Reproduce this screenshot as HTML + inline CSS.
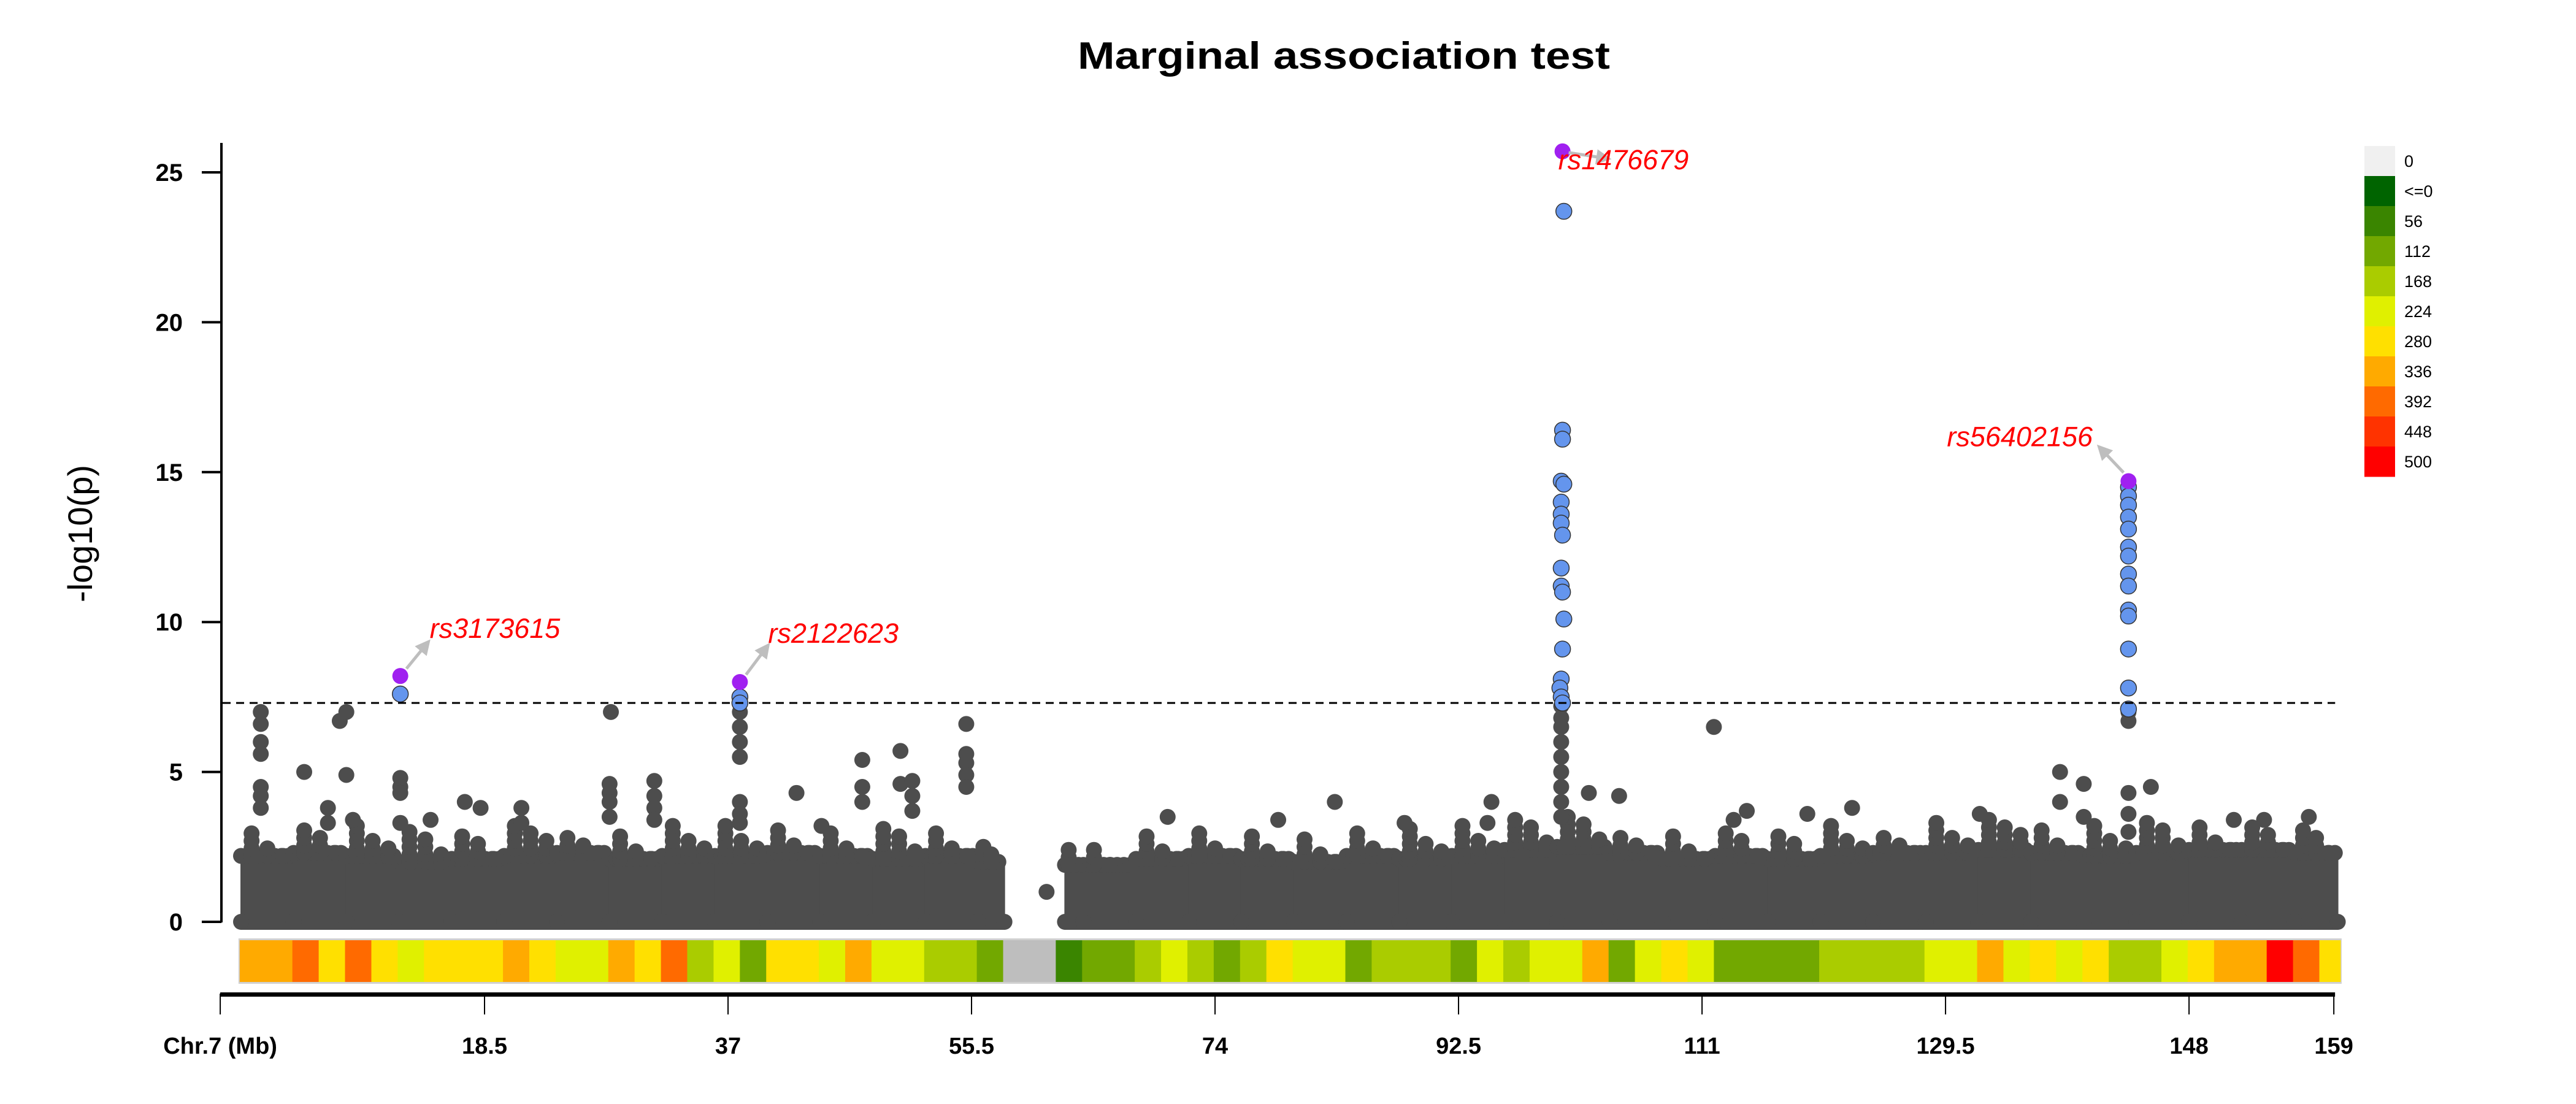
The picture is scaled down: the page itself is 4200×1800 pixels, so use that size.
<!DOCTYPE html>
<html><head><meta charset="utf-8"><title>Marginal association test</title>
<style>html,body{margin:0;padding:0;background:#fff}svg{display:block}</style></head>
<body>
<svg id="chart" xmlns="http://www.w3.org/2000/svg" width="4200" height="1800" viewBox="0 0 4200 1800" font-family="Liberation Sans, sans-serif">
<defs>
<marker id="arr" viewBox="0 0 10 10" refX="8" refY="5" markerWidth="5" markerHeight="5" orient="auto"><path d="M0,0 L10,5 L0,10 z" fill="#bebebe"/></marker>
</defs>
<text x="2191" y="112" text-anchor="middle" font-size="62" font-weight="bold" textLength="868" lengthAdjust="spacingAndGlyphs">Marginal association test</text>
<text transform="translate(150,870) rotate(-90)" text-anchor="middle" font-size="56">-log10(p)</text>
<g id="yaxis"></g>
<g id="xaxis"></g>
<g id="strip"></g>
<g id="mass"></g>
<g id="pts"></g>
<line id="thr" stroke="#000" stroke-width="3" stroke-dasharray="13,9"/>
<g id="labels"></g>
<g id="legend"></g>
</svg>
<script>
const yTicks = [0, 5, 10, 15, 20, 25];
const xTickVals = [-1.58, 18.5, 37, 55.5, 74, 92.5, 111, 129.5, 148, 159];
const xTickLabels = ["Chr.7 (Mb)", "18.5", "37", "55.5", "74", "92.5", "111", "129.5", "148", "159"];
const threshold = 7.3;
// density class per 2 Mb bin (-1 = gap)
const densityBins = [7,7,8,6,8,6,5,6,6,6,7,6,5,5,7,6,8,4,5,3,6,6,5,7,5,5,4,4,3,-1,-1,2,3,3,4,5,4,3,4,6,5,5,3,4,4,4,3,5,4,5,5,7,3,5,6,5,3,3,3,3,4,4,4,4,5,5,7,5,6,5,6,4,4,5,6,7,7,10,8,6];
const legendLabels = ["0","<=0","56","112","168","224","280","336","392","448","500"];
const legendColors = ["#f0f0f0","#006400","#3a8500","#72a800","#aacc00","#e0f000","#ffe000","#ffaa00","#ff6a00","#ff3300","#ff0000"];
// background mass: top value and scattered peak per 4 Mb bin
const massTop = [2.2,2.3,2.2,2.0,2.1,2.2,2.3,2.1,2.2,2.2,2.3,2.2,2.1,2.2,2.0,1.9,1.9,2.1,2.2,2.1,2.0,2.2,2.1,2.2,2.4,2.5,2.3,2.1,2.2,2.1,2.2,2.3,2.3,2.4,2.3,2.2,2.3,2.4,2.4,2.3];
const massPeak = [3.0,3.2,3.3,3.1,3.0,3.4,3.0,2.9,3.2,3.3,3.1,3.0,3.2,3.0,2.6,2.4,2.4,2.9,3.0,2.9,2.8,3.0,3.1,3.3,3.5,3.6,3.0,2.9,3.1,3.0,3.2,3.0,3.3,3.6,3.1,3.2,3.4,3.2,3.3,3.2];
const massStart = 0.0, massEnd = 159.3, gapStart = 58.0, gapEnd = 62.6;
// scattered grey SNPs [Mb, -log10p]
const greyMb = [1.5,1.5,1.5,1.5,1.5,1.5,1.5,4.8,6.6,6.6,7.5,8.0,8.0,8.5,12.1,12.1,12.1,12.1,14.4,17.0,18.2,21.3,21.3,28.1,28.0,28.0,28.0,28.0,31.4,31.4,31.4,31.4,37.9,37.9,37.9,37.9,37.9,37.9,37.9,42.2,44.1,47.2,47.2,47.2,50.1,50.1,51.0,51.0,51.0,55.1,55.1,55.1,55.1,55.1,61.2,70.4,78.8,83.1,88.4,94.7,95.0,100.3,100.3,100.3,100.3,100.3,100.3,100.3,100.3,100.3,102.4,104.7,111.9,113.4,114.4,119.0,122.4,132.1,138.2,138.2,140.0,140.0,143.4,143.4,143.4,143.4,143.4,145.1,151.4,153.7,157.1];
const greyP  = [7.0,6.6,6.0,5.6,4.5,4.2,3.8,5.0,3.8,3.3,6.7,7.0,4.9,3.4,4.8,4.5,4.3,3.3,3.4,4.0,3.8,3.8,3.3,7.0,4.6,4.3,4.0,3.5,4.7,4.2,3.8,3.4,7.0,6.5,6.0,5.5,4.0,3.6,3.3,4.3,3.2,5.4,4.5,4.0,5.7,4.6,4.7,4.2,3.7,6.6,5.6,5.3,4.9,4.5,1.0,3.5,3.4,4.0,3.3,3.3,4.0,7.2,6.8,6.5,6.0,5.5,5.0,4.5,4.0,3.5,4.3,4.2,6.5,3.4,3.7,3.6,3.8,3.6,5.0,4.0,4.6,3.5,7.0,6.7,4.3,3.6,3.0,4.5,3.4,3.4,3.5];
// LD (blue) SNPs
const blueMb = [12.1,37.9,37.9,100.5,100.4,100.4,100.3,100.5,100.3,100.3,100.3,100.4,100.3,100.3,100.4,100.5,100.4,100.3,100.2,100.3,100.4,143.4,143.4,143.4,143.4,143.4,143.4,143.4,143.4,143.4,143.4,143.4,143.4,143.4,143.4];
const blueP  = [7.6,7.5,7.3,23.7,16.4,16.1,14.7,14.6,14.0,13.6,13.3,12.9,11.8,11.2,11.0,10.1,9.1,8.1,7.8,7.5,7.3,14.5,14.2,13.9,13.5,13.1,12.5,12.2,11.6,11.2,10.4,10.2,9.1,7.8,7.1];
// lead SNPs
const leadNames = ["rs3173615","rs2122623","rs1476679","rs56402156"];
const leadMb = [12.1, 37.9, 100.4, 143.4];
const leadP = [8.2, 8.0, 25.7, 14.7];

const NS = "http://www.w3.org/2000/svg";
const X0 = 393, PXMB = 21.46, Y0 = 1503, PXV = 48.88;
function xs(mb){ return X0 + PXMB * mb; }
function ys(v){ return Y0 - PXV * v; }
function mk(tag, attrs, parent){ const e = document.createElementNS(NS, tag); for (const k in attrs) e.setAttribute(k, attrs[k]); parent.appendChild(e); return e; }

// Y axis
const ya = document.getElementById('yaxis');
mk('line', {x1:361, y1:233, x2:361, y2:Y0+1, stroke:'#000', 'stroke-width':4}, ya);
yTicks.forEach(v => {
  const t = mk('line', {x1:329, y1:ys(v), x2:361, y2:ys(v), stroke:'#000', 'stroke-width':4}, ya);
  
  
  const l = mk('text', {x:298, y:ys(v)+14, 'text-anchor':'end', 'font-size':40, 'font-weight':'bold'}, ya);
  l.textContent = v;
  
  
});

// X axis
const xa = document.getElementById('xaxis');
const xFirst = xs(xTickVals[0]), xLast = xs(xTickVals[xTickVals.length-1]);
mk('rect', {x:xFirst, y:1618, width:xLast-xFirst+2, height:7, fill:'#000'}, xa);
xTickVals.forEach((v, i) => {
  const t = mk('line', {x1:xs(v), y1:1620, x2:xs(v), y2:1654, stroke:'#000', 'stroke-width':2}, xa);
  
  
  const l = mk('text', {x:xs(v), y:1718, 'text-anchor':'middle', 'font-size':38, 'font-weight':'bold'}, xa);
  l.textContent = xTickLabels[i];
  
  
});

// density strip
const st = document.getElementById('strip');
const stripEnd = 159.5;
mk('rect', {x:xs(-0.1)-2, y:1530, width:xs(stripEnd)-xs(-0.1)+4, height:74, fill:'#d0d0d0'}, st);
densityBins.forEach((c, i) => {
  const x1 = xs(-0.1 + i * 2), x2 = Math.min(xs(-0.1 + i * 2 + 2), xs(stripEnd));
  if (x2 <= x1) return;
  const r = mk('rect', {x:x1, y:1533, width:x2 - x1 + 0.5, height:68, fill: c < 0 ? '#bebebe' : legendColors[c]}, st);
  
  
});

// background mass
const ms = document.getElementById('mass');
const G = '#4d4d4d', R = 13;
massTop.forEach((h, i) => {
  if (h === null) return;
  let a = i === 0 ? massStart : i * 4;
  let b = i === massTop.length - 1 ? massEnd : i * 4 + 4;
  if (a < gapStart && b > gapStart) b = gapStart;
  if (a < gapEnd && b > gapEnd) a = gapEnd;
  if (a >= gapStart && b <= gapEnd) return;
  if (b <= a) return;
  const r = mk('rect', {x:xs(a)-1, y:ys(h), width:xs(b)-xs(a)+2, height:ys(0)+R-ys(h), fill:G}, ms);
  
  
  for (let x = xs(a); x <= xs(b); x += 11) mk('circle', {cx:x, cy:ys(h), r:R, fill:G}, ms);
  mk('circle', {cx:xs(a), cy:ys(0), r:R, fill:G}, ms);
  mk('circle', {cx:xs(b), cy:ys(0), r:R, fill:G}, ms);
  const pk = massPeak[i];
  [0.2, 0.5, 0.8].forEach((f, k) => {
    const top = pk - k * 0.35;
    const cx = xs(a + (b - a) * f);
    for (let v = h; v <= top; v += 0.25) {
      const c = mk('circle', {cx:cx, cy:ys(v), r:R, fill:G}, ms);
      
      
    }
  });
});

// points
const pg = document.getElementById('pts');
greyMb.forEach((m, i) => {
  const c = mk('circle', {cx:xs(m), cy:ys(greyP[i]), r:R, fill:G}, pg);
  
  
});
blueMb.forEach((m, i) => {
  const c = mk('circle', {cx:xs(m), cy:ys(blueP[i]), r:R, fill:'#6495ed', stroke:'#333', 'stroke-width':1.5}, pg);
  
  
});
leadMb.forEach((m, i) => {
  const c = mk('circle', {cx:xs(m), cy:ys(leadP[i]), r:R, fill:'#a020f0'}, pg);
  
  
});

// threshold
const thr = document.getElementById('thr');
thr.setAttribute('x1', 363); thr.setAttribute('x2', xs(159.1));
thr.setAttribute('y1', ys(threshold)); thr.setAttribute('y2', ys(threshold));

// labels: offsets in px relative to lead point
const lbOff = [[48,-62],[46,-64],[-7,29],[-296,-57]];
const arOff = [[10,-12,46,-56],[10,-12,46,-60],[10,2,75,12],[-8,-14,-48,-56]];
const lg = document.getElementById('labels');
leadMb.forEach((m, i) => {
  const px = xs(m), py = ys(leadP[i]);
  const a = arOff[i];
  const ln = mk('line', {x1:px+a[0], y1:py+a[1], x2:px+a[2], y2:py+a[3], stroke:'#bebebe', 'stroke-width':5, 'marker-end':'url(#arr)'}, lg);
  
  
  const t = mk('text', {x:px+lbOff[i][0], y:py+lbOff[i][1], 'font-size':45, 'font-style':'italic', fill:'#ff0000'}, lg);
  t.textContent = leadNames[i];
  
  
});

// legend
const le = document.getElementById('legend');
legendLabels.forEach((lab, i) => {
  const y = 238 + i * 49;
  const r = mk('rect', {x:3855, y:y, width:50, height:49.5, fill:legendColors[i]}, le);
  
  
  const t = mk('text', {x:3920, y:y+34, 'font-size':27}, le);
  t.textContent = lab;
  
  
});
</script>
</body></html>
